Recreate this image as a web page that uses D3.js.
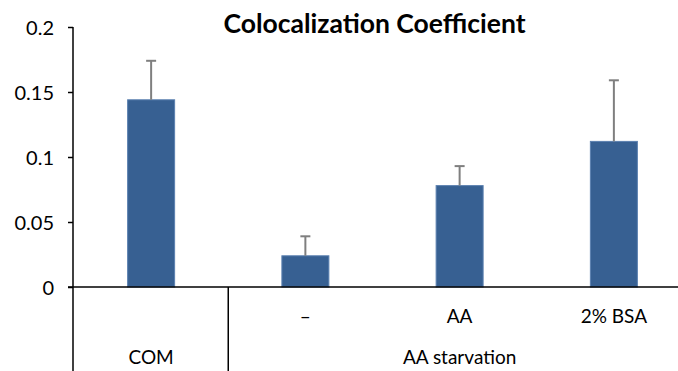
<!DOCTYPE html>
<html>
<head>
<meta charset="utf-8">
<script src="https://cdn.jsdelivr.net/npm/d3@7"></script>
<style>
  html, body { margin: 0; padding: 0; background: #fff; }
  svg { display: block; }
</style>
</head>
<body>
<svg id="chart" width="678" height="371"></svg>
<script>
const title = "Colocalization Coefficient";
const categories = ["COM", "–", "AA", "2% BSA"];
const groupLabels = ["COM", "AA starvation"];
const groupSpans = [[0, 0], [1, 3]];
const values = [0.144, 0.024, 0.078, 0.112];
const errors = [0.030, 0.015, 0.015, 0.047];
const yTicks = [0, 0.05, 0.1, 0.15, 0.2];
const yTickLabels = ["0", "0.05", "0.1", "0.15", "0.2"];

const W = 678, H = 371;
const axisX = 73;
const font = "Lato, 'Open Sans', sans-serif";
const svg = d3.select("#chart");

const y = d3.scaleLinear().domain([0, 0.2]).range([287, 27]);
const x = d3.scaleBand().domain(d3.range(categories.length)).range([74, 691]);
const barW = 47;

// title
svg.append("text")
  .attr("x", 374.5).attr("y", 33)
  .attr("text-anchor", "middle")
  .attr("font-family", font).attr("font-weight", "bold")
  .attr("font-size", 26.5).attr("fill", "#000")
  .text(title);

// bars
const bars = svg.append("g");
bars.selectAll("rect").data(values).join("rect")
  .attr("x", (d, i) => x(i) + x.bandwidth() / 2 - barW / 2)
  .attr("y", d => y(d))
  .attr("width", barW)
  .attr("height", d => y(0) - y(d))
  .attr("fill", "#376092")
  .attr("stroke", "#5b80b0")
  .attr("stroke-width", 1);

// error bars
const eb = svg.append("g").attr("stroke", "#7f7f7f").attr("stroke-width", 2);
values.forEach((v, i) => {
  const cx = x(i) + x.bandwidth() / 2;
  eb.append("line").attr("x1", cx).attr("x2", cx)
    .attr("y1", y(v)).attr("y2", y(v + errors[i]));
  eb.append("line").attr("x1", cx - 5).attr("x2", cx + 5)
    .attr("y1", y(v + errors[i])).attr("y2", y(v + errors[i]));
});

// y axis
const yAxis = d3.axisLeft(y).tickValues(yTicks)
  .tickFormat((d, i) => yTickLabels[i]).tickSize(5).tickSizeOuter(0).tickPadding(14);
const gy = svg.append("g").attr("transform", `translate(${axisX},0)`).call(yAxis);
gy.select(".domain").remove();
gy.selectAll(".tick line").attr("stroke", "#000").attr("stroke-width", 1.5);
gy.selectAll(".tick text").attr("font-family", font).attr("font-size", 20)
  .attr("fill", "#000").attr("dy", "0.36em");
svg.append("line").attr("x1", axisX).attr("x2", axisX)
  .attr("y1", y(0.2)).attr("y2", H)
  .attr("stroke", "#000").attr("stroke-width", 1.5);

// x axis line
svg.append("line").attr("x1", axisX - 5).attr("x2", W)
  .attr("y1", y(0)).attr("y2", y(0))
  .attr("stroke", "#000").attr("stroke-width", 1.5);

// group separators
groupSpans.forEach((s, gi) => {
  if (gi > 0) {
    const sx = x(s[0]);
    svg.append("line").attr("x1", sx).attr("x2", sx)
      .attr("y1", y(0)).attr("y2", H)
      .attr("stroke", "#000").attr("stroke-width", 1.5);
  }
});

// category labels (first row), only for multi-member groups
const labG = svg.append("g").attr("font-family", font).attr("font-size", 19).attr("fill", "#000")
  .attr("text-anchor", "middle");
categories.forEach((c, i) => {
  const inMulti = groupSpans.some(s => s[1] > s[0] && i >= s[0] && i <= s[1]);
  if (inMulti) {
    labG.append("text").attr("x", x(i) + x.bandwidth() / 2).attr("y", 323).text(c);
  }
});
// group labels (second row)
groupSpans.forEach((s, gi) => {
  const cx = (x(s[0]) + x(s[1]) + x.bandwidth()) / 2;
  labG.append("text").attr("x", cx).attr("y", 364).text(groupLabels[gi]);
});
</script>
</body>
</html>
